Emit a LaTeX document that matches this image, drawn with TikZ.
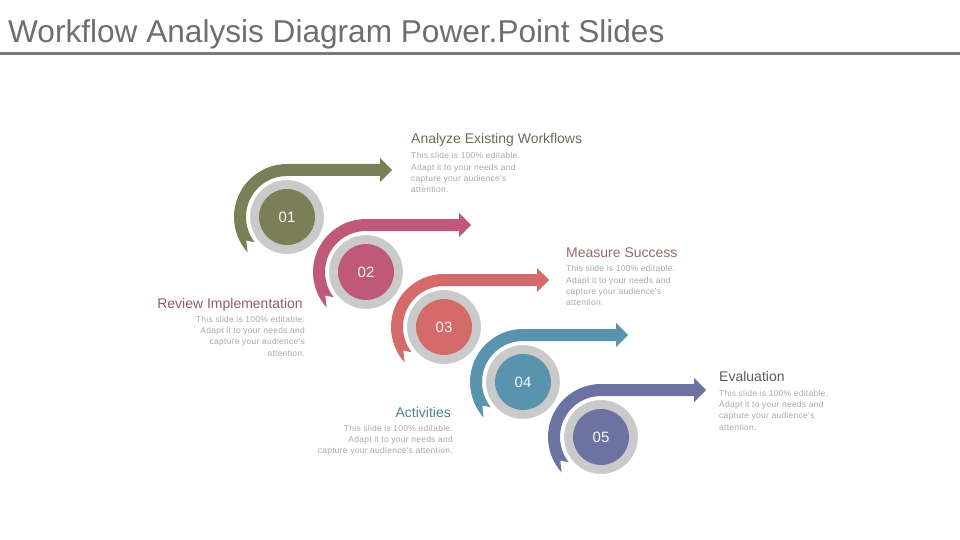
\documentclass[tikz,border=0pt]{standalone}
\usepackage{fontspec}
\setmainfont{Liberation Sans}
\newfontfamily\bodyfont[LetterSpace=3]{Liberation Sans}
\definecolor{colA}{HTML}{7B7F58}
\definecolor{colB}{HTML}{C05878}
\definecolor{colC}{HTML}{D56A6B}
\definecolor{colD}{HTML}{5A93AD}
\definecolor{colE}{HTML}{6C72A1}
\definecolor{ringgray}{HTML}{CACACA}
\definecolor{titlegray}{HTML}{6E6E6E}
\definecolor{rulegray}{HTML}{7A7A7A}
\definecolor{bodygray}{HTML}{A8A8A8}
\definecolor{headA}{HTML}{6B6B5A}
\definecolor{headB}{HTML}{9C6868}
\definecolor{headC}{HTML}{8F5A6C}
\definecolor{headD}{HTML}{4F7F8F}
\definecolor{headE}{HTML}{5C5C66}
\tikzset{
  flowarrow/.pic={
    \fill[#1] (142:41) arc[start angle=142,end angle=270,radius=41]
      -- (93,-41) -- (93,-35) -- (105,-47) -- (93,-59) -- (93,-53) -- (0,-53)
      arc[start angle=270,end angle=138,radius=53] -- (150:47) -- cycle;
  },
  ring/.style={circle, fill=ringgray, draw=white, line width=2pt, minimum size=76pt, inner sep=0pt},
  disc/.style={circle, fill=#1, minimum size=56pt, inner sep=0pt, text=white!94!gray,
    font=\fontsize{15}{15}\selectfont},
  headtext/.style={inner sep=0pt, text=#1, font=\fontsize{14}{16}\selectfont},
  bodytext/.style={inner sep=0pt, text=bodygray, font=\bodyfont\fontsize{8.5}{11.3}\selectfont},
}
\begin{document}
\begin{tikzpicture}[x=1pt,y=-1pt]
\useasboundingbox (0,0) rectangle (960,540);
\node[anchor=base west, inner sep=0pt, text=titlegray, font=\fontsize{31.6}{32}\selectfont] (title) at (8,43) {Workflow Analysis Diagram Power.Point Slides};
\fill[rulegray] (0,52) rectangle (960,55);

% unit 1
\pic at (287,217) {flowarrow=colA};
\node[ring] (r1) at (287,217) {};
\node[disc=colA] (n1) at (r1) {01};
% unit 2
\pic at (366,272) {flowarrow=colB};
\node[ring] (r2) at (366,272) {};
\node[disc=colB] (n2) at (r2) {02};
% unit 3
\pic at (444,327) {flowarrow=colC};
\node[ring] (r3) at (444,327) {};
\node[disc=colC] (n3) at (r3) {03};
% unit 4
\pic at (523,382) {flowarrow=colD};
\node[ring] (r4) at (523,382) {};
\node[disc=colD] (n4) at (r4) {04};
% unit 5
\pic at (601,437) {flowarrow=colE};
\node[ring] (r5) at (601,437) {};
\node[disc=colE] (n5) at (r5) {05};

% texts
\node[headtext=headA, anchor=base west] (hA) at (411,144) {Analyze Existing Workflows};
\node[bodytext, anchor=north west, align=left] (bA) at (411,152.5) {This slide is 100\% editable.\\Adapt it to your needs and\\capture your audience's\\attention.};

\node[headtext=headB, anchor=base west] (hB) at (566,257) {Measure Success};
\node[bodytext, anchor=north west, align=left] (bB) at (566,265.5) {This slide is 100\% editable.\\Adapt it to your needs and\\capture your audience's\\attention.};

\node[headtext=headC, anchor=base east] (hC) at (303,308) {Review Implementation};
\node[bodytext, anchor=north east, align=right] (bC) at (305,316) {This slide is 100\% editable.\\Adapt it to your needs and\\capture your audience's\\attention.};

\node[headtext=headD, anchor=base east] (hD) at (451,417) {Activities};
\node[bodytext, anchor=north east, align=right] (bD) at (453,425) {This slide is 100\% editable.\\Adapt it to your needs and\\capture your audience's attention.};

\node[headtext=headE, anchor=base west] (hE) at (719,381) {Evaluation};
\node[bodytext, anchor=north west, align=left] (bE) at (719,390) {This slide is 100\% editable.\\Adapt it to your needs and\\capture your audience's\\attention.};
\end{tikzpicture}
\end{document}
